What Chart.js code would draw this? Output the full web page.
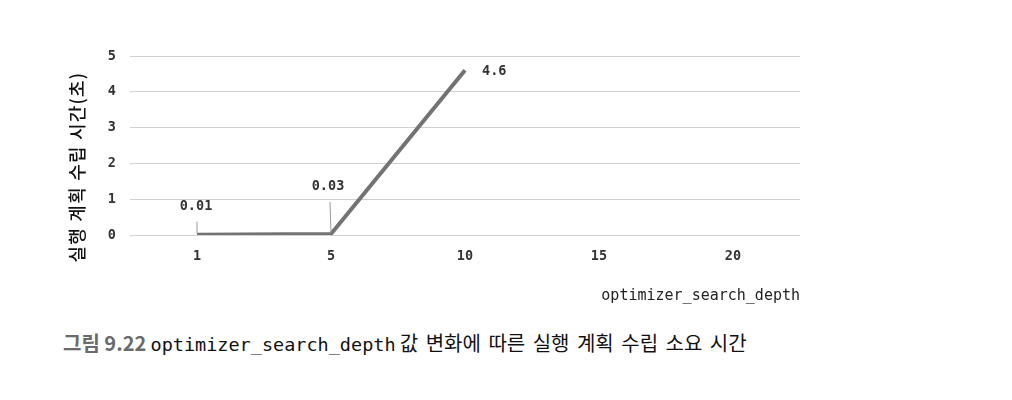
<!DOCTYPE html>
<html><head><meta charset="utf-8">
<script src="https://cdn.jsdelivr.net/npm/chart.js@4"></script>
<style>
html,body{margin:0;padding:0;background:#fff;}
#wrap{position:absolute;left:0;top:0;width:1012px;height:320px;}
#cap{position:absolute;left:63px;top:330px;font-family:"Noto Sans CJK KR";font-size:19px;color:#111;white-space:nowrap;line-height:26px;}
#cap .fig{color:#6a6a6a;font-weight:700;font-size:20px;}
#cap .mono{font-family:"DejaVu Sans Mono";font-size:18.5px;}
#cap .kr{font-size:20px;word-spacing:3px;}
</style></head><body>
<div id="wrap"><canvas id="c"></canvas></div>
<div id="cap"><span class="fig">그림 9.22</span> <span class="mono">optimizer_search_depth</span> <span class="kr">값 변화에 따른 실행 계획 수립 소요 시간</span></div>
<script>
const categories = ['1','5','10','15','20'];
const planTime = [0.01, 0.03, 4.6, null, null];
const pointLabels = ['0.01','0.03','4.6', null, null];
const yTicks = [0,1,2,3,4,5];
const yTitle = '실행 계획 수립 시간(초)';

const labelPlugin = {
  id:'ptlabels',
  afterDatasetsDraw(chart){
    const ctx = chart.ctx;
    const meta = chart.getDatasetMeta(0);
    const offs = [
      {dx:-1, dy:-28, lead:[[0,-13],[0,-1]], align:'center'},
      {dx:-3, dy:-47, lead:[[-1,-32],[0,-1]], align:'center'},
      {dx:17, dy:1, lead:null, align:'left'}
    ];
    ctx.save();
    ctx.font = 'bold 13.5px "DejaVu Sans Mono"';
    ctx.fillStyle = '#333';
    ctx.textBaseline = 'middle';
    meta.data.forEach((pt,i)=>{
      if(!pointLabels[i]) return;
      const o = offs[i];
      if(o.lead){
        ctx.strokeStyle = '#999'; ctx.lineWidth = 1;
        ctx.beginPath();
        ctx.moveTo(pt.x+o.lead[0][0], pt.y+o.lead[0][1]);
        ctx.lineTo(pt.x+o.lead[1][0], pt.y+o.lead[1][1]);
        ctx.stroke();
      }
      ctx.textAlign = o.align;
      ctx.fillText(pointLabels[i], pt.x+o.dx, pt.y+o.dy);
    });
    // y axis title
    ctx.translate(77, 167);
    ctx.rotate(-Math.PI/2);
    ctx.font = '500 18px "Noto Sans CJK KR"';
    ctx.fillStyle = '#111';
    ctx.letterSpacing = '1.2px';
    ctx.textAlign = 'center';
    ctx.fillText(yTitle, 0, 0);
    ctx.restore();
  }
};

new Chart(document.getElementById('c'), {
  type:'line',
  data:{labels:categories, datasets:[{data:planTime, borderColor:'#737373', borderWidth:4, pointRadius:0, tension:0, fill:false, spanGaps:false}]},
  options:{
    responsive:true, maintainAspectRatio:false, animation:false,
    layout:{padding:{left:55, right:212, top:56, bottom:15}},
    plugins:{legend:{display:false}, tooltip:{enabled:false}},
    scales:{
      x:{
        offset:true,
        grid:{display:false},
        border:{display:false},
        ticks:{font:{family:'DejaVu Sans Mono', size:13.5, weight:'bold'}, color:'#333', padding:5, maxRotation:0},
        title:{display:true, text:'optimizer_search_depth', align:'end', font:{family:'DejaVu Sans Mono', size:15}, color:'#222', padding:0},
        afterFit(s){ s.height = 70; }
      },
      y:{
        min:0, max:5,
        afterBuildTicks(s){ s.ticks = yTicks.map(v=>({value:v})); },
        grid:{color:'#d0d0d0', lineWidth:1, drawTicks:false},
        border:{display:false},
        ticks:{font:{family:'DejaVu Sans Mono', size:13.5, weight:'bold'}, color:'#333', padding:14},
        afterFit(s){ s.width = 75; }
      }
    }
  },
  plugins:[labelPlugin]
});
</script>
</body></html>
